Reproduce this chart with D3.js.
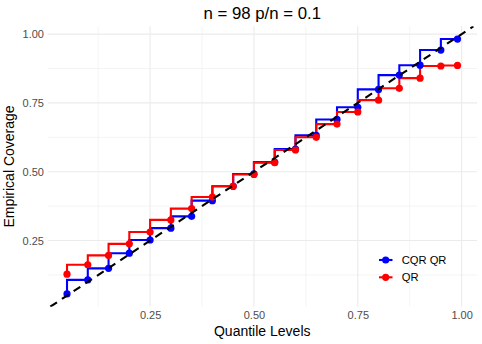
<!DOCTYPE html>
<html>
<head>
<meta charset="utf-8">
<script src="https://cdn.jsdelivr.net/npm/d3@7"></script>
<style>
  body { margin: 0; background: #fff; }
  text { font-family: "Liberation Sans", Arial, sans-serif; }
</style>
</head>
<body>
<main></main>
<script>
// datos
const niveles = [0.05, 0.10, 0.15, 0.20, 0.25, 0.30, 0.35, 0.40, 0.45, 0.50,
                 0.55, 0.60, 0.65, 0.70, 0.75, 0.80, 0.85, 0.90, 0.95, 0.99];
const cqrQR = [0.056, 0.107, 0.149, 0.204, 0.252, 0.295, 0.338, 0.395, 0.447, 0.492,
               0.535, 0.582, 0.632, 0.690, 0.734, 0.799, 0.851, 0.887, 0.942, 0.982];
const qr = [0.128, 0.162, 0.196, 0.238, 0.281, 0.325, 0.366, 0.408, 0.447, 0.490,
            0.533, 0.579, 0.625, 0.673, 0.717, 0.760, 0.803, 0.840, 0.884, 0.886];
const series = ['CQR QR', 'QR'];
const colores = ['#0000ff', '#ff0000'];
const ticks = [0.25, 0.50, 0.75, 1.00];
const titulo = 'n = 98 p/n = 0.1';

const w = 482, h = 344;
const izq = 47.5, der = 477, arriba = 26.3, abajo = 306.7;

const svg = d3.select('main').append('svg')
    .attr('width', w).attr('height', h);

// expansion del 5% como ggplot
function expandir(ext) {
    const d = (ext[1] - ext[0]) * 0.05;
    return [ext[0] - d, ext[1] + d];
}

const x = d3.scaleLinear().domain(expandir(d3.extent(niveles))).range([izq, der]);
const y = d3.scaleLinear().domain(expandir(d3.extent(cqrQR.concat(qr)))).range([abajo, arriba]);

// rejilla
const menores = [0.125, 0.375, 0.625, 0.875];
const g = svg.append('g');
g.selectAll('.vmin').data(menores).enter().append('line')
    .attr('x1', d => x(d)).attr('x2', d => x(d)).attr('y1', arriba).attr('y2', abajo)
    .attr('stroke', '#ebebeb').attr('stroke-width', 0.55);
g.selectAll('.hmin').data(menores).enter().append('line')
    .attr('y1', d => y(d)).attr('y2', d => y(d)).attr('x1', izq).attr('x2', der)
    .attr('stroke', '#ebebeb').attr('stroke-width', 0.55);
g.selectAll('.vmaj').data(ticks).enter().append('line')
    .attr('x1', d => x(d)).attr('x2', d => x(d)).attr('y1', arriba).attr('y2', abajo)
    .attr('stroke', '#ebebeb').attr('stroke-width', 1.1);
g.selectAll('.hmaj').data(ticks).enter().append('line')
    .attr('y1', d => y(d)).attr('y2', d => y(d)).attr('x1', izq).attr('x2', der)
    .attr('stroke', '#ebebeb').attr('stroke-width', 1.1);

// ejes (solo etiquetas)
const ejeX = svg.append('g').attr('transform', `translate(0,${abajo})`)
    .call(d3.axisBottom(x).tickValues(ticks).tickFormat(d3.format('.2f')).tickSize(0).tickPadding(5));
const ejeY = svg.append('g').attr('transform', `translate(${izq},0)`)
    .call(d3.axisLeft(y).tickValues(ticks).tickFormat(d3.format('.2f')).tickSize(0).tickPadding(3.5));
[ejeX, ejeY].forEach(e => {
    e.select('.domain').remove();
    e.selectAll('text').attr('font-size', 11).attr('fill', '#4d4d4d')
        .attr('font-family', '"Liberation Sans", Arial, sans-serif');
});

// lineas escalonadas y puntos
const datos = [cqrQR, qr].map((vals, k) => ({
    nombre: series[k], color: colores[k],
    puntos: niveles.map((n, i) => [n, vals[i]])
}));
const linea = d3.line().x(d => x(d[0])).y(d => y(d[1])).curve(d3.curveStepBefore);

const clip = svg.append('clipPath').attr('id', 'panel').append('rect')
    .attr('x', izq).attr('y', arriba).attr('width', der - izq).attr('height', abajo - arriba);

const capa = svg.append('g');
datos.forEach(s => {
    capa.append('path').datum(s.puntos)
        .attr('d', linea).attr('fill', 'none')
        .attr('stroke', s.color).attr('stroke-width', 2.1);
});
datos.forEach(s => {
    capa.selectAll(null).data(s.puntos).enter().append('circle')
        .attr('cx', d => x(d[0])).attr('cy', d => y(d[1])).attr('r', 3.6)
        .attr('fill', s.color);
});

// diagonal y = x
const lo = Math.max(x.domain()[0], y.domain()[0]);
const hi = Math.min(x.domain()[1], y.domain()[1]);
svg.append('line')
    .attr('clip-path', 'url(#panel)')
    .attr('x1', x(lo)).attr('y1', y(lo)).attr('x2', x(hi)).attr('y2', y(hi))
    .attr('stroke', '#000').attr('stroke-width', 2.1).attr('stroke-dasharray', '8,6');

// titulos
svg.append('text').attr('x', (izq + der) / 2).attr('y', 18.5)
    .attr('text-anchor', 'middle').attr('font-size', 16.8).attr('fill', '#000').text(titulo);
svg.append('text').attr('x', (izq + der) / 2).attr('y', 335.5)
    .attr('text-anchor', 'middle').attr('font-size', 14).attr('fill', '#000').text('Quantile Levels');
svg.append('text').attr('transform', `translate(13.5,${(arriba + abajo) / 2}) rotate(-90)`)
    .attr('text-anchor', 'middle').attr('font-size', 14).attr('fill', '#000').text('Empirical Coverage');

// leyenda
const ley = svg.append('g').attr('transform', 'translate(379,260)');
const item = ley.selectAll('g').data(datos).enter().append('g')
    .attr('transform', (d, i) => `translate(0,${i * 17.3})`);
item.append('line').attr('x1', 0).attr('x2', 13.5).attr('stroke', d => d.color).attr('stroke-width', 2.1);
item.append('circle').attr('cx', 6.7).attr('r', 3.6).attr('fill', d => d.color);
item.append('text').attr('x', 22.7).attr('dy', '0.35em').attr('font-size', 11.2)
    .attr('fill', '#000').text(d => d.nombre);
</script>
</body>
</html>
